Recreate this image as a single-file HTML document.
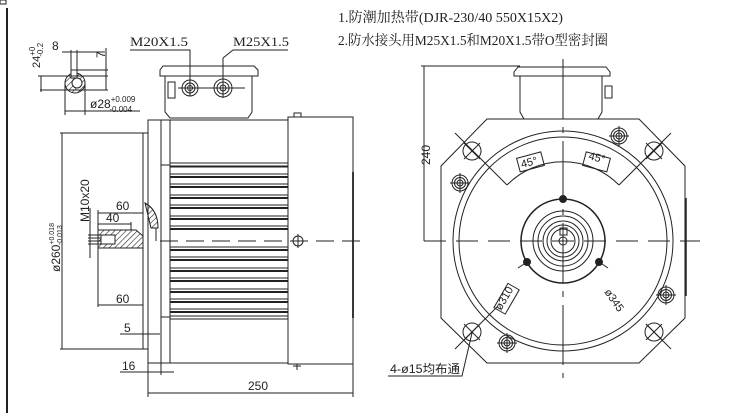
<!DOCTYPE html>
<html><head><meta charset="utf-8"><style>
html,body{margin:0;padding:0;background:#fff;}
svg{display:block;}
text{font-family:"Liberation Sans","Noto Sans CJK SC",sans-serif;fill:#222;}
.s{font-family:"Liberation Serif","Noto Serif CJK SC","Noto Sans CJK SC",serif;}
</style></head><body>
<svg width="747" height="413" viewBox="0 0 747 413" xmlns="http://www.w3.org/2000/svg">
<defs>
<pattern id="h" width="4" height="4" patternUnits="userSpaceOnUse" patternTransform="rotate(45)"><line x1="0" y1="0" x2="0" y2="4" stroke="#222" stroke-width="1.2"/></pattern>
<g id="gnd" stroke="#222" fill="none" stroke-width="1"><circle r="8"/><circle r="5.5"/><circle r="3"/><line x1="-10" y1="0" x2="10" y2="0"/><line x1="0" y1="-10" x2="0" y2="10"/></g>
<g id="hole" stroke="#222" fill="none" stroke-width="1"><circle r="9"/><line x1="-8" y1="-8" x2="8" y2="8"/><line x1="-8" y1="8" x2="8" y2="-8"/></g>
</defs>
<rect width="747" height="413" fill="#fff"/>
<g stroke="#222" fill="none" stroke-width="1">
<line x1="7" y1="8" x2="7" y2="413" stroke-width="2"/>
<rect x="0" y="0" width="6" height="4"/>

<circle cx="75" cy="83" r="10"/>
<circle cx="75" cy="83" r="10" fill="url(#h)" stroke="none"/>
<circle cx="77" cy="83" r="5" fill="#fff"/>
<rect x="71" y="70" width="6" height="8" fill="#fff"/>
<line x1="71" y1="50" x2="71" y2="78"/><line x1="77" y1="50" x2="77" y2="78"/>
<line x1="62" y1="52" x2="105" y2="52"/>
<line x1="77" y1="70" x2="108" y2="70"/>
<line x1="106" y1="48" x2="106" y2="90"/>
<line x1="38" y1="76" x2="108" y2="76"/>
<line x1="40" y1="90" x2="108" y2="90"/>
<line x1="41" y1="76" x2="41" y2="92"/>
<line x1="65" y1="83" x2="65" y2="115"/><line x1="85" y1="83" x2="85" y2="115"/>
<line x1="65" y1="111" x2="140" y2="111"/>

<path d="M160,70 L163,66 L254,66 L258,70 L258,76 L160,76 Z"/>
<path d="M165,76 L165,112 L170,118 L248,118 L252,112 L252,76"/>
<rect x="168" y="82" width="7" height="16"/>
<circle cx="190" cy="88" r="8"/><circle cx="190" cy="88" r="5"/><circle cx="190" cy="88" r="2.5"/>
<circle cx="223" cy="88" r="9"/><circle cx="223" cy="88" r="6"/><circle cx="223" cy="88" r="3"/>
<line x1="178" y1="88" x2="245" y2="88"/>
<polyline points="130,50 190,50 190,96"/>
<polyline points="288,50 233,50 223,58"/>
<line x1="223" y1="58" x2="223" y2="98"/>

<rect x="143" y="133" width="5" height="216"/>
<rect x="148" y="120" width="13" height="243"/>
<rect x="161" y="120" width="9" height="45"/>
<rect x="161" y="317" width="9" height="46"/>
<rect x="170" y="120" width="118" height="243"/>
<rect x="288" y="117" width="65" height="247"/>
<line x1="353" y1="172" x2="353" y2="318" stroke-width="1.8"/>
<rect x="294" y="113" width="7" height="4"/>
<line x1="297" y1="364" x2="297" y2="370"/><line x1="293" y1="366" x2="301" y2="366"/>
<line x1="170" y1="165" x2="170" y2="318"/>
</g>
<g stroke="#222" stroke-width="1">
<line x1="170" y1="163" x2="288" y2="163"/><line x1="170" y1="166.5" x2="288" y2="166.5" stroke-width="2"/>
<line x1="170" y1="174" x2="288" y2="174"/><line x1="170" y1="177" x2="288" y2="177" stroke-width="2"/>
<line x1="170" y1="184" x2="288" y2="184"/><line x1="170" y1="187" x2="288" y2="187" stroke-width="2"/>
<line x1="170" y1="195" x2="288" y2="195"/><line x1="170" y1="198" x2="288" y2="198" stroke-width="2"/>
<line x1="170" y1="205" x2="288" y2="205"/><line x1="170" y1="208" x2="288" y2="208" stroke-width="2"/>
<line x1="170" y1="216" x2="288" y2="216"/><line x1="170" y1="219" x2="288" y2="219" stroke-width="2"/>
<line x1="170" y1="226" x2="288" y2="226"/><line x1="170" y1="229" x2="288" y2="229" stroke-width="2"/>
<line x1="170" y1="247" x2="288" y2="247"/><line x1="170" y1="250" x2="288" y2="250" stroke-width="2"/>
<line x1="170" y1="257" x2="288" y2="257"/><line x1="170" y1="260" x2="288" y2="260" stroke-width="2"/>
<line x1="170" y1="268" x2="288" y2="268"/><line x1="170" y1="271" x2="288" y2="271" stroke-width="2"/>
<line x1="170" y1="278" x2="288" y2="278"/><line x1="170" y1="281" x2="288" y2="281" stroke-width="2"/>
<line x1="170" y1="289" x2="288" y2="289"/><line x1="170" y1="292" x2="288" y2="292" stroke-width="2"/>
<line x1="170" y1="299" x2="288" y2="299"/><line x1="170" y1="302" x2="288" y2="302" stroke-width="2"/>
<line x1="170" y1="309" x2="288" y2="309"/><line x1="170" y1="312" x2="288" y2="312" stroke-width="2"/>
<line x1="170" y1="316" x2="288" y2="316"/><line x1="170" y1="319" x2="288" y2="319"/>
</g>
<g stroke="#222" fill="none" stroke-width="1">
<line x1="160" y1="241" x2="365" y2="241" stroke-dasharray="18,8"/>
<circle cx="298" cy="241" r="5"/><line x1="298" y1="234" x2="298" y2="248"/>
<path d="M98,230 L136,230 L143,236 L143,248 L98,248 Z" fill="url(#h)"/>
<rect x="101" y="235" width="14" height="9" fill="#fff"/>
<line x1="88" y1="235" x2="101" y2="235"/><line x1="88" y1="244" x2="101" y2="244"/>
<line x1="88" y1="238" x2="101" y2="238"/><line x1="88" y1="241" x2="101" y2="241"/>
<line x1="90" y1="208" x2="90" y2="258"/>
<path d="M145,203 Q158,210 158,228 L151,228 Z" fill="url(#h)"/>
<line x1="148" y1="228" x2="148" y2="241"/><line x1="156" y1="228" x2="156" y2="241"/>
<line x1="98" y1="210" x2="98" y2="307"/>
<line x1="98" y1="213" x2="143" y2="213"/>
<line x1="98" y1="224" x2="131" y2="224"/><line x1="131" y1="222" x2="131" y2="230"/>
<line x1="98" y1="305" x2="143" y2="305"/>
<line x1="62" y1="133" x2="62" y2="349"/>
<line x1="60" y1="133" x2="143" y2="133"/><line x1="60" y1="349" x2="143" y2="349"/>
<line x1="120" y1="334" x2="160" y2="334"/>
<line x1="120" y1="372" x2="174" y2="372"/>
<line x1="161" y1="363" x2="161" y2="375"/>
<line x1="148" y1="363" x2="148" y2="397"/><line x1="353" y1="364" x2="353" y2="397"/>
<line x1="148" y1="393" x2="353" y2="393"/>

<path d="M487,119 L639,119 L685,166 L685,318 L639,363 L487,363 L441,318 L441,166 Z"/>
<line x1="686" y1="198" x2="686" y2="296" stroke-width="1.5"/>
<path d="M514,72 L518,67 L606,67 L610,72 L610,76 L514,76 Z"/>
<path d="M520,76 L520,112 L524,119 L598,119 L602,112 L602,76"/>
<rect x="605" y="86" width="7" height="12"/>
<circle cx="563" cy="241" r="110"/>
<circle cx="563" cy="241" r="104"/>
<path d="M507,185 A79,79 0 0 1 619,185"/>
<line x1="455" y1="133" x2="507" y2="185"/><line x1="671" y1="133" x2="619" y2="185"/>
<line x1="455" y1="349" x2="480" y2="324"/><line x1="671" y1="349" x2="646" y2="324"/>
<line x1="498" y1="306" x2="466" y2="338"/>
<use href="#hole" x="472" y="151"/><use href="#hole" x="654" y="151"/>
<use href="#hole" x="472" y="332"/><use href="#hole" x="654" y="332"/>
<use href="#gnd" x="619" y="136"/><use href="#gnd" x="460" y="183"/>
<use href="#gnd" x="666" y="295"/><use href="#gnd" x="507" y="343"/>
<circle cx="563" cy="241" r="42" stroke-width="1.5"/>
<circle cx="563" cy="241" r="30"/><circle cx="563" cy="241" r="25"/>
<circle cx="563" cy="241" r="20"/><circle cx="563" cy="241" r="16"/>
<circle cx="563" cy="241" r="12"/><circle cx="563" cy="241" r="4"/>
<rect x="560" y="228" width="7" height="7"/>
<circle cx="563" cy="199" r="3.5" fill="#222"/>
<circle cx="527" cy="262" r="3.5" fill="#222"/>
<circle cx="599" cy="262" r="3.5" fill="#222"/>
<line x1="518" y1="268" x2="530" y2="260"/><line x1="608" y1="268" x2="596" y2="260"/>
<line x1="424" y1="241" x2="700" y2="241" stroke-dasharray="22,10"/>
<line x1="563" y1="59" x2="563" y2="378" stroke-dasharray="60,8,6,8"/>
<line x1="424" y1="66" x2="424" y2="241"/>
<line x1="421" y1="66" x2="520" y2="66"/>
<g transform="rotate(-15 530 162)"><rect x="518" y="155" width="25" height="14"/></g>
<g transform="rotate(15 597 162)"><rect x="584" y="155" width="25" height="14"/></g>
<g transform="rotate(-60 507 299)"><rect x="493" y="292" width="28" height="13"/></g>
<polyline points="388,376 462,376 472,333"/>
</g>
<text x="130" y="46" class="s" font-size="13" textLength="58" lengthAdjust="spacingAndGlyphs">M20X1.5</text>
<text x="233" y="46" class="s" font-size="13" textLength="56" lengthAdjust="spacingAndGlyphs">M25X1.5</text>
<text x="338" y="22" class="s" font-size="14" textLength="225" lengthAdjust="spacingAndGlyphs">1.防潮加热带(DJR-230/40 550X15X2)</text>
<text x="338" y="45" class="s" font-size="14" textLength="270" lengthAdjust="spacingAndGlyphs">2.防水接头用M25X1.5和M20X1.5带O型密封圈</text>
<text x="52" y="50" font-size="12">8</text>
<text x="0" y="0" font-size="12" transform="translate(105,58) rotate(-90)">7</text>
<text x="0" y="0" font-size="11" transform="translate(40,68) rotate(-90)">24<tspan font-size="8" dy="-5">+0</tspan><tspan font-size="8" dx="-10" dy="8">-0.2</tspan></text>
<text x="90" y="108" font-size="12">ø28<tspan font-size="8" dy="-6">+0.009</tspan><tspan font-size="8" dx="-26" dy="10">-0.004</tspan></text>
<text x="0" y="0" font-size="12" transform="translate(89,222) rotate(-90)">M10x20</text>
<text x="0" y="0" font-size="12" transform="translate(60,272) rotate(-90)">ø260<tspan font-size="7" dy="-6">+0.018</tspan><tspan font-size="7" dx="-22" dy="8">-0.013</tspan></text>
<text x="116" y="210" font-size="12">60</text>
<text x="106" y="222" font-size="12">40</text>
<text x="116" y="303" font-size="12">60</text>
<text x="124" y="332" font-size="12">5</text>
<text x="122" y="370" font-size="12">16</text>
<text x="248" y="390" font-size="12">250</text>
<text x="0" y="0" font-size="12" transform="translate(430,165) rotate(-90)">240</text>
<text x="0" y="0" font-size="11" transform="translate(522,168) rotate(-15)">45°</text>
<text x="0" y="0" font-size="11" transform="translate(588,159) rotate(15)">45°</text>
<text x="0" y="0" font-size="11" transform="translate(501,311) rotate(-60)">ø310</text>
<text x="0" y="0" font-size="11" transform="translate(604,292) rotate(55)">ø345</text>
<text x="390" y="373" font-size="12" textLength="70" lengthAdjust="spacingAndGlyphs">4-ø15均布通</text>
</svg>
</body></html>
